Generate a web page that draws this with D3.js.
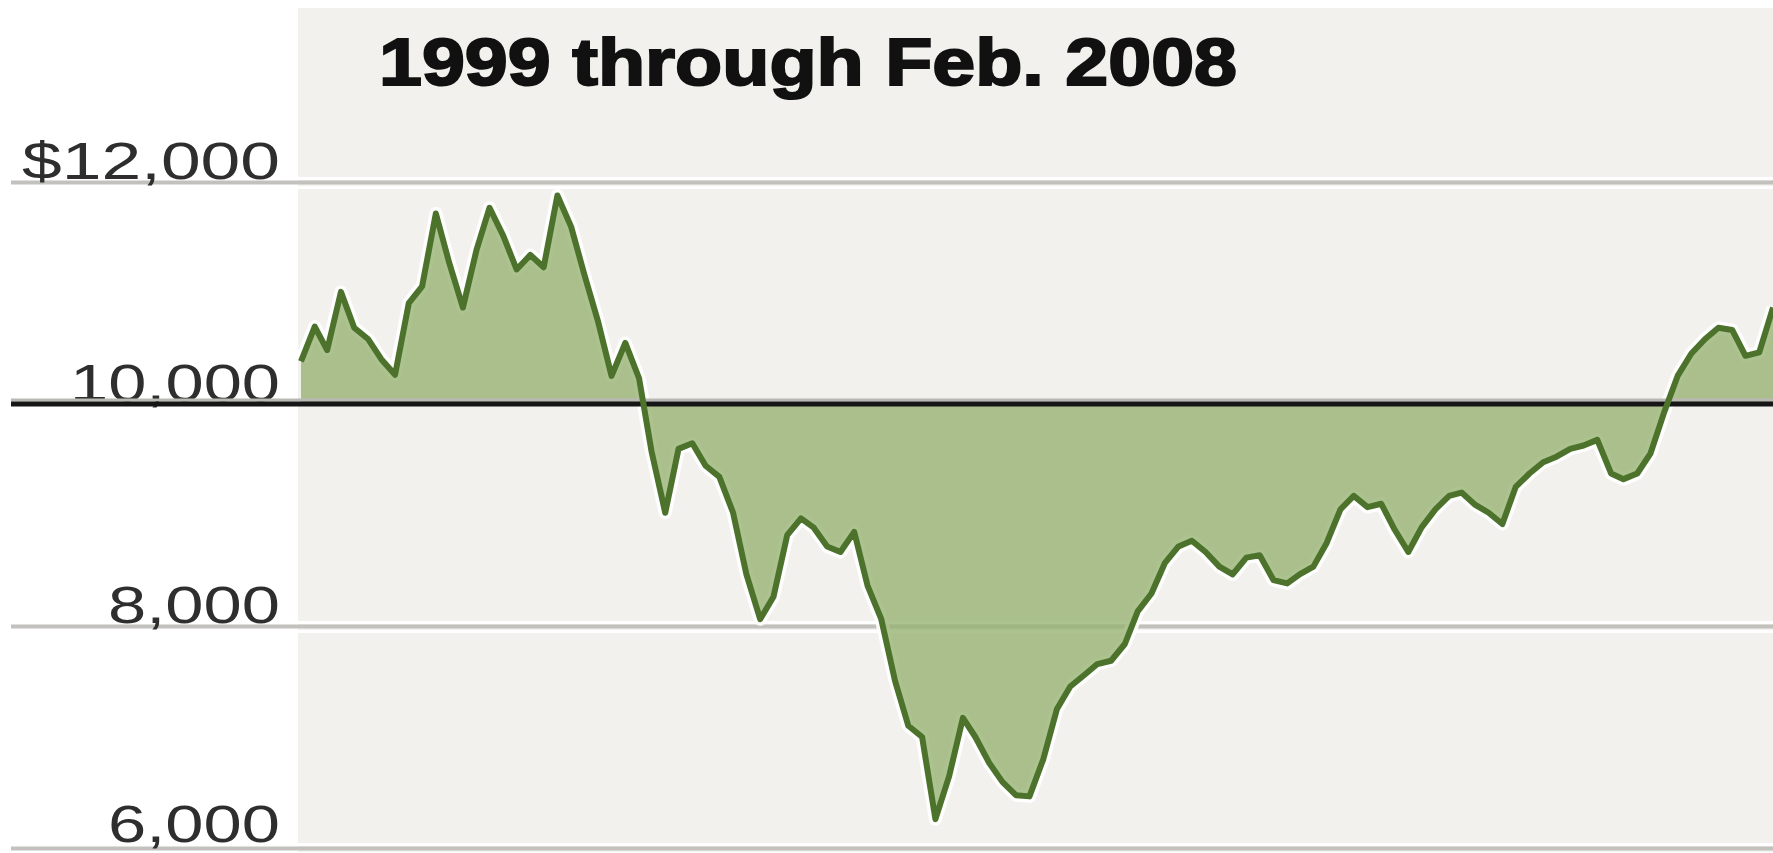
<!DOCTYPE html>
<html>
<head>
<meta charset="utf-8">
<script src="https://cdn.jsdelivr.net/npm/d3@7"></script>
<style>
  html, body { margin: 0; padding: 0; background: #ffffff; }
  svg { display: block; }
</style>
</head>
<body>
<svg id="chart" width="1773" height="853"></svg>
<script>
// ---- DATA ----
const title = "1999 through Feb. 2008";
const startMonth = "1999-01";
const endMonth = "2008-02";
// Monthly values of $10,000 invested, Jan 1999 .. Feb 2008
const values = [
  10384, 10697, 10485, 11010, 10687, 10586, 10404, 10263, 10909, 11060,
  11717, 11273, 10869, 11394, 11768, 11515, 11212, 11343, 11232, 11879,
  11596, 11162, 10737, 10253, 10550, 10232, 9576, 9020, 9596, 9646,
  9444, 9343, 9020, 8465, 8061, 8263, 8818, 8970, 8889, 8717,
  8667, 8848, 8364, 8061, 7505, 7101, 7000, 6260, 6647, 7172,
  7000, 6768, 6596, 6475, 6465, 6798, 7253, 7455, 7556, 7657,
  7687, 7838, 8132, 8293, 8566, 8717, 8768, 8667, 8535, 8465,
  8616, 8637, 8414, 8384, 8465, 8535, 8748, 9051, 9172, 9071,
  9101, 8869, 8667, 8889, 9051, 9172, 9202, 9091, 9020, 8919,
  9253, 9374, 9475, 9525, 9596, 9626, 9677, 9374, 9323, 9374,
  9556, 9929, 10253, 10455, 10586, 10687, 10667, 10434, 10465, 10869
];
const baseline = 10000;
const yTicks = [6000, 8000, 10000, 12000];
const yTickLabels = ["6,000", "8,000", "10,000", "$12,000"];

// ---- LAYOUT ----
const W = 1773, H = 853;
const plot = { left: 298, top: 8, right: W, bottom: H };

const parse = d3.timeParse("%Y-%m");
const months = d3.timeMonth.range(parse(startMonth), d3.timeMonth.offset(parse(endMonth), 1));
const data = months.map((d, i) => ({ date: d, value: values[i] }));

const x = d3.scaleTime()
  .domain([months[0], months[months.length - 1]])
  .range([plot.left + 3, W]);
const y = d3.scaleLinear().domain([6000, 12000]).range([848, 182]);

const svg = d3.select("#chart");

// plot background
svg.append("rect")
  .attr("x", plot.left).attr("y", plot.top)
  .attr("width", plot.right - plot.left).attr("height", plot.bottom - plot.top)
  .attr("fill", "#f2f1ed");

// gridlines via axis
const grid = svg.append("g")
  .attr("transform", `translate(${W},0)`)
  .call(d3.axisLeft(y).tickValues(yTicks.filter(t => t !== baseline))
    .tickSize(W - 11).tickFormat(""));
grid.select(".domain").remove();
grid.selectAll(".tick line")
  .attr("stroke", "#c2c1bd").attr("stroke-width", 4);
grid.selectAll(".tick").each(function () {
  const g = d3.select(this);
  g.insert("line", ":first-child")
    .attr("x2", -(W - 11)).attr("y1", -4).attr("y2", -4)
    .attr("stroke", "#ffffff").attr("stroke-width", 3);
  g.insert("line", ":first-child")
    .attr("x2", -(W - 11)).attr("y1", 5).attr("y2", 5)
    .attr("stroke", "#ffffff").attr("stroke-width", 3);
});

// tick labels
const labelX = 280;
const labelWidths = { "6,000": 172, "8,000": 172, "10,000": 210, "$12,000": 258 };
svg.append("g").selectAll("text")
  .data(yTicks)
  .join("text")
  .attr("x", labelX)
  .attr("y", d => d === 6000 ? y(d) - 6 : y(d) - 3)
  .attr("text-anchor", "end")
  .attr("font-family", "'Liberation Sans', Arial, sans-serif")
  .attr("font-size", 52)
  .attr("fill", "#2e2e2e")
  .attr("textLength", (d, i) => labelWidths[yTickLabels[i]])
  .attr("lengthAdjust", "spacingAndGlyphs")
  .text((d, i) => yTickLabels[i]);

// line + area
const line = d3.line().x(d => x(d.date)).y(d => y(d.value));
const area = d3.area().x(d => x(d.date)).y0(y(baseline)).y1(d => y(d.value));

svg.append("path").datum(data)
  .attr("d", line).attr("fill", "none")
  .attr("stroke", "#ffffff").attr("stroke-width", 13)
  .attr("stroke-linejoin", "round").attr("opacity", 0.9);

svg.append("path").datum(data)
  .attr("d", area).attr("fill", "#97b373").attr("fill-opacity", 0.8);

// baseline 10,000
svg.append("line")
  .attr("x1", 11).attr("x2", W)
  .attr("y1", y(baseline) - 4).attr("y2", y(baseline) - 4)
  .attr("stroke", "#b9b8b4").attr("stroke-width", 3);
svg.append("line")
  .attr("x1", 11).attr("x2", W)
  .attr("y1", y(baseline)).attr("y2", y(baseline))
  .attr("stroke", "#161616").attr("stroke-width", 5);

svg.append("path").datum(data)
  .attr("d", line).attr("fill", "none")
  .attr("stroke", "#4d722c").attr("stroke-width", 6)
  .attr("stroke-linejoin", "round");

// title
svg.append("text")
  .attr("x", 379).attr("y", 85)
  .attr("font-family", "'Liberation Sans', Arial, sans-serif")
  .attr("font-weight", "bold")
  .attr("font-size", 66)
  .attr("fill", "#111111")
  .attr("stroke", "#111111")
  .attr("stroke-width", 2)
  .attr("textLength", 858)
  .attr("lengthAdjust", "spacingAndGlyphs")
  .text(title);
</script>
</body>
</html>
